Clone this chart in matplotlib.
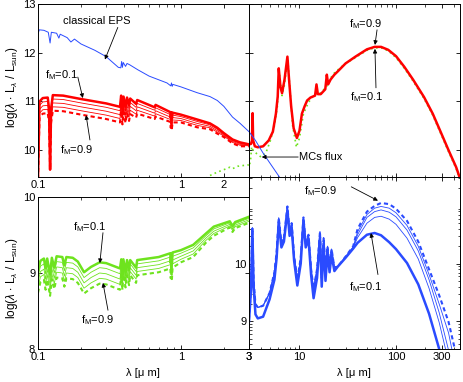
import numpy as np
import matplotlib.pyplot as plt
from matplotlib.ticker import NullFormatter, FixedLocator

plt.rcParams['font.family'] = ['Liberation Sans', 'DejaVu Sans']
plt.rcParams['font.size'] = 8
plt.rcParams['mathtext.fontset'] = 'custom'
plt.rcParams['mathtext.rm'] = 'Liberation Sans'
plt.rcParams['mathtext.it'] = 'Liberation Sans:italic'
plt.rcParams['mathtext.sf'] = 'Liberation Sans'

RED = '#ff0000'
BLUE = '#2a4bff'
GREEN = '#6ee31e'

# --- top panels: classical EPS, MCs flux, red family (fM = 0.1 ... 0.9) ---
eps_lam = [0.100, 0.102, 0.110, 0.118, 0.1215, 0.124, 0.135, 0.140, 0.143, 0.160, 0.170,
           0.180, 0.200, 0.250, 0.300, 0.365, 0.380, 0.385, 0.390, 0.395, 0.410, 0.420,
           0.440, 0.500, 0.600, 0.800, 0.850, 0.860, 0.870, 0.880, 1.00, 1.30, 1.60,
           1.80, 2.00, 2.30, 2.60, 3.00, 3.50, 4.20, 5.00, 6.20, 7.00]
eps_val = [12.38, 12.47, 12.46, 12.42, 12.20, 12.42, 12.40, 12.30, 12.38, 12.31, 12.22,
           12.28, 12.18, 12.05, 11.92, 11.70, 11.69, 11.82, 11.70, 11.80, 11.72, 11.78,
           11.75, 11.65, 11.52, 11.38, 11.32, 11.38, 11.31, 11.35, 11.30, 11.18, 11.10,
           11.02, 10.90, 10.68, 10.55, 10.38, 10.20, 9.94, 9.72, 9.45, 9.30]

mcs_lam = [1.5, 1.6, 1.8, 2.0, 2.2, 2.3, 2.5, 2.8, 3.0, 3.1, 3.2, 3.3, 3.6, 4.0, 4.5, 5.0,
           5.5, 5.9, 6.15, 6.6, 7.0, 7.55, 8.0, 8.5, 9.3, 10.0, 11.0, 12.4, 14.2, 16.0,
           19.0, 22.0, 25.0, 30.0, 38.0, 50.0, 60.0, 70.0, 83.0, 100.0, 122.0, 150.0,
           195.0, 240.0, 285.0, 350.0, 420.0, 460.0]
mcs_val = [9.42, 9.48, 9.55, 9.60, 9.65, 9.62, 9.67, 9.69, 9.70, 9.75, 10.07, 10.00, 9.93,
           9.86, 9.95, 10.20, 10.50, 10.90, 11.62, 11.12, 11.35, 11.88, 11.20, 10.50,
           10.06, 10.25, 10.75, 10.98, 11.15, 11.15, 11.30, 11.55, 11.65, 11.78, 11.90,
           12.05, 12.10, 12.10, 12.04, 11.90, 11.68, 11.42, 11.06, 10.72, 10.38, 9.97,
           9.62, 9.40]

red_tl_lam = [0.100, 0.1025, 0.108, 0.117, 0.1195, 0.1215, 0.1235, 0.127, 0.150, 0.200,
              0.300, 0.375, 0.382, 0.390, 0.397, 0.410, 0.420, 0.434, 0.442, 0.486, 0.495,
              0.656, 0.665, 0.845, 0.850, 0.858, 0.866, 0.875, 1.00, 1.30, 1.60, 1.80,
              2.00, 2.30, 2.60, 3.00]
red_tl_f01 = [9.40, 11.00, 11.07, 11.08, 10.85, 9.60, 10.85, 11.13, 11.12, 11.05, 10.96,
              10.89, 11.12, 10.85, 11.10, 10.88, 11.08, 10.92, 11.06, 10.95, 11.03, 10.88,
              10.93, 10.78, 10.66, 10.78, 10.65, 10.77, 10.73, 10.63, 10.55, 10.46, 10.35,
              10.22, 10.16, 10.12]
red_tl_f03 = [9.40, 10.92, 10.99, 11.00, 10.78, 9.60, 10.78, 11.05, 11.04, 10.97, 10.88,
              10.81, 11.04, 10.77, 11.02, 10.80, 11.00, 10.84, 10.98, 10.88, 10.96, 10.82,
              10.87, 10.73, 10.61, 10.73, 10.60, 10.72, 10.69, 10.59, 10.52, 10.43, 10.33,
              10.20, 10.14, 10.11]
red_tl_f05 = [9.40, 10.84, 10.91, 10.92, 10.71, 9.60, 10.71, 10.97, 10.96, 10.89, 10.80,
              10.73, 10.96, 10.69, 10.94, 10.72, 10.92, 10.76, 10.90, 10.81, 10.89, 10.76,
              10.81, 10.68, 10.56, 10.68, 10.55, 10.67, 10.65, 10.55, 10.49, 10.40, 10.31,
              10.18, 10.12, 10.10]
red_tl_f07 = [9.40, 10.76, 10.83, 10.84, 10.64, 9.60, 10.64, 10.89, 10.88, 10.81, 10.72,
              10.65, 10.88, 10.61, 10.86, 10.64, 10.84, 10.68, 10.82, 10.74, 10.82, 10.70,
              10.75, 10.63, 10.51, 10.63, 10.50, 10.62, 10.61, 10.51, 10.46, 10.37, 10.29,
              10.16, 10.10, 10.09]
red_tl_f09 = [9.40, 10.68, 10.75, 10.76, 10.57, 9.60, 10.57, 10.81, 10.80, 10.73, 10.64,
              10.57, 10.80, 10.53, 10.78, 10.56, 10.76, 10.60, 10.74, 10.67, 10.75, 10.64,
              10.69, 10.58, 10.46, 10.58, 10.45, 10.57, 10.57, 10.47, 10.43, 10.34, 10.27,
              10.14, 10.08, 10.08]

red_tr_lam = [3.0, 3.15, 3.22, 3.27, 3.31, 3.45, 3.7, 4.2, 4.8, 5.3, 5.7, 5.95, 6.1, 6.35,
              6.6, 7.0, 7.5, 7.8, 8.2, 8.7, 9.4, 10.0, 10.6, 11.3, 12.0, 13.0, 14.5, 15.0,
              15.5, 16.6, 18.5, 19.2, 19.8, 21.0, 23.0, 25.0, 30.0, 38.0, 50.0, 60.0, 70.0,
              83.0, 100.0, 122.0, 150.0, 195.0, 240.0, 285.0, 350.0, 420.0, 460.0]
red_tr_val = [10.12, 10.13, 10.20, 10.76, 10.20, 10.08, 10.06, 10.08, 10.20, 10.38, 10.75,
              11.10, 11.68, 11.30, 11.17, 11.45, 11.92, 11.45, 10.90, 10.45, 10.25, 10.40,
              10.75, 10.90, 11.02, 11.08, 11.12, 11.35, 11.15, 11.15, 11.25, 11.55, 11.35,
              11.45, 11.55, 11.62, 11.78, 11.92, 12.07, 12.12, 12.12, 12.06, 11.93, 11.71,
              11.45, 11.09, 10.75, 10.41, 10.00, 9.65, 9.42]

# --- bottom-left: green family ---
bl_lam = [0.100, 0.104, 0.110, 0.113, 0.116, 0.1215, 0.125, 0.130, 0.135, 0.148, 0.153,
          0.158, 0.175, 0.190, 0.210, 0.235, 0.270, 0.300, 0.375, 0.383, 0.390, 0.396,
          0.410, 0.420, 0.434, 0.442, 0.486, 0.495, 0.700, 0.845, 0.850, 0.858, 0.866,
          0.875, 1.00, 1.22, 1.50, 1.70, 2.20, 2.30, 2.40, 3.00]
bl_f01 = [9.02, 9.16, 9.19, 9.06, 9.19, 8.98, 9.20, 9.07, 9.22, 9.21, 9.10, 9.21, 9.20,
          9.15, 9.01, 9.08, 9.14, 9.13, 9.06, 9.18, 8.98, 9.18, 9.01, 9.17, 9.04, 9.17,
          9.07, 9.17, 9.21, 9.26, 9.13, 9.26, 9.12, 9.27, 9.30, 9.37, 9.52, 9.61, 9.68,
          9.62, 9.67, 9.74]
bl_f03 = [8.95, 9.09, 9.12, 8.99, 9.12, 8.91, 9.13, 9.00, 9.15, 9.14, 9.03, 9.14, 9.13,
          9.08, 8.94, 9.01, 9.07, 9.06, 8.99, 9.13, 8.93, 9.13, 8.96, 9.12, 8.99, 9.12,
          9.02, 9.12, 9.16, 9.21, 9.08, 9.21, 9.07, 9.22, 9.26, 9.33, 9.49, 9.58, 9.66,
          9.60, 9.65, 9.72]
bl_f05 = [8.88, 9.02, 9.05, 8.92, 9.05, 8.84, 9.06, 8.93, 9.08, 9.07, 8.96, 9.07, 9.06,
          9.01, 8.87, 8.94, 9.00, 8.99, 8.92, 9.08, 8.88, 9.08, 8.91, 9.07, 8.94, 9.07,
          8.97, 9.07, 9.11, 9.16, 9.03, 9.16, 9.02, 9.17, 9.22, 9.29, 9.46, 9.55, 9.64,
          9.58, 9.63, 9.70]
bl_f07 = [8.81, 8.95, 8.98, 8.85, 8.98, 8.77, 8.99, 8.86, 9.01, 9.00, 8.89, 9.00, 8.99,
          8.94, 8.80, 8.87, 8.93, 8.92, 8.85, 9.03, 8.83, 9.03, 8.86, 9.02, 8.89, 9.02,
          8.92, 9.02, 9.06, 9.11, 8.98, 9.11, 8.97, 9.12, 9.18, 9.25, 9.43, 9.52, 9.62,
          9.56, 9.61, 9.68]
bl_f09 = [8.74, 8.88, 8.91, 8.78, 8.91, 8.70, 8.92, 8.79, 8.94, 8.93, 8.82, 8.93, 8.92,
          8.87, 8.73, 8.80, 8.86, 8.85, 8.78, 8.98, 8.78, 8.98, 8.81, 8.97, 8.84, 8.97,
          8.87, 8.97, 9.01, 9.06, 8.93, 9.06, 8.92, 9.07, 9.14, 9.21, 9.40, 9.49, 9.60,
          9.54, 9.59, 9.66]

# --- bottom-right: blue family (MIR part shared by fM >= 0.3, FIR part per curve) ---
br_mir_lam = [3.0, 3.15, 3.25, 3.35, 3.5, 3.7, 4.2, 4.9, 5.5, 5.8, 6.1, 6.5, 6.9, 7.5, 7.9,
              8.3, 8.8, 9.5, 10.3, 11.0, 11.6, 12.4, 13.2, 14.0, 15.2, 16.3, 17.0, 17.8,
              18.6, 19.5, 20.5, 21.5, 23.0]
br_mir_upper = [9.03, 9.60, 10.62, 9.70, 9.30, 9.24, 9.27, 9.49, 9.85, 10.20, 10.79, 10.35,
                10.45, 10.99, 10.55, 10.70, 10.13, 9.72, 10.10, 10.80, 10.35, 10.50, 9.90,
                9.56, 9.90, 10.55, 9.75, 10.45, 9.85, 10.30, 9.98, 10.25, 9.93]
br_mir_lower = [9.00, 9.55, 10.60, 9.60, 9.12, 9.05, 9.08, 9.38, 9.72, 10.10, 10.72, 10.28,
                10.38, 10.92, 10.48, 10.62, 10.05, 9.62, 10.00, 10.75, 10.28, 10.43, 9.80,
                9.40, 9.75, 10.45, 9.60, 10.35, 9.70, 10.20, 9.85, 10.15, 9.87]
br_fir_lam = [25, 30, 36, 40, 50, 60, 70, 85, 100, 130, 170, 220, 280, 350, 450]
br_fir_f01 = [9.95, 10.10, 10.26, 10.36, 10.50, 10.53, 10.49, 10.37, 10.25, 10.01, 9.64,
              9.13, 8.52, 7.80, 6.90]
br_fir_f03 = [9.95, 10.11, 10.28, 10.45, 10.70, 10.80, 10.82, 10.77, 10.68, 10.44, 10.08,
              9.57, 8.98, 8.30, 7.40]
br_fir_f05 = [9.95, 10.11, 10.28, 10.50, 10.80, 10.90, 10.93, 10.89, 10.81, 10.58, 10.22,
              9.72, 9.15, 8.50, 7.60]
br_fir_f07 = [9.95, 10.12, 10.29, 10.55, 10.85, 10.96, 10.99, 10.96, 10.88, 10.66, 10.30,
              9.81, 9.30, 8.80, 7.90]
br_fir_f09 = [9.95, 10.12, 10.30, 10.60, 10.90, 11.00, 11.05, 11.03, 10.95, 10.74, 10.38,
              9.90, 9.45, 8.99, 8.20]

# line styles for fM = 0.1, 0.3, 0.5, 0.7, 0.9
fam_styles = [dict(lw=1.8), dict(lw=0.6), dict(lw=0.6), dict(lw=0.6),
              dict(lw=1.5, ls=(0, (2, 1.5)))]

W, H = 463, 382
fig = plt.figure(figsize=(W / 100, H / 100), dpi=100)


def px_axes(l, t, r, b):
    return fig.add_axes([l / W, 1 - b / H, (r - l) / W, (b - t) / H])


ax_tl = px_axes(38, 4, 249, 177)
ax_tr = px_axes(249, 4, 460, 177)
ax_bl = px_axes(38, 197, 249, 349)
ax_br = px_axes(249, 177, 460, 349)

for ax in (ax_tl, ax_tr, ax_bl, ax_br):
    ax.set_xscale('log')
    ax.tick_params(which='both', direction='in', top=True, right=True, labelsize=8, pad=2)
    ax.tick_params(which='major', length=3, width=0.6)
    ax.tick_params(which='minor', length=1.8, width=0.5)
    ax.xaxis.set_minor_formatter(NullFormatter())
    for s in ax.spines.values():
        s.set_linewidth(0.7)

# top panels
for ax in (ax_tl, ax_tr):
    ax.plot(mcs_lam, mcs_val, color=GREEN, lw=1.2, ls=(0, (1, 2)))
for vals, st in zip([red_tl_f01, red_tl_f03, red_tl_f05, red_tl_f07, red_tl_f09], fam_styles):
    ax_tl.plot(red_tl_lam, vals, color=RED, **st)
ax_tr.plot(red_tr_lam, red_tr_val, color=RED, lw=1.8)
for ax in (ax_tl, ax_tr):
    ax.plot(eps_lam, eps_val, color=BLUE, lw=0.7)
    ax.set_ylim(9.45, 13)
    ax.set_yticks([10, 11, 12, 13])

ax_tl.set_xlim(0.1, 3)
ax_tl.set_xticks([0.1, 1, 2], ['0.1', '1', '2'])
ax_tr.set_xlim(3, 460)
ax_tr.set_xticks([3, 10, 100, 300], ['', '', '', ''])
ax_tr.set_yticklabels(['', '', '', ''])

# bottom-left
for vals, st in zip([bl_f01, bl_f03, bl_f05, bl_f07, bl_f09], fam_styles):
    ax_bl.plot(bl_lam, vals, color=GREEN, **st)
ax_bl.set_xlim(0.1, 3)
ax_bl.set_ylim(8, 10)
ax_bl.set_yticks([8, 9, 10])
ax_bl.set_xticks([0.1, 1, 3], ['0.1', '1', '3'])

# bottom-right
br_mir = [br_mir_lower, br_mir_upper, br_mir_upper, br_mir_upper, br_mir_upper]
br_fir = [br_fir_f01, br_fir_f03, br_fir_f05, br_fir_f07, br_fir_f09]
for mir, fir, st in zip(br_mir, br_fir, fam_styles):
    ax_br.plot(br_mir_lam + br_fir_lam, mir + fir, color=BLUE, **st)
ax_br.set_xlim(3, 460)
ax_br.set_ylim(8.52, 11.5)
ax_br.set_yticks([9, 10])
ax_br.yaxis.set_minor_locator(FixedLocator(
    [n + np.log10(k) for n in (8, 9, 10, 11) for k in range(2, 10)]))
ax_br.yaxis.set_minor_formatter(NullFormatter())
ax_br.set_xticks([3, 10, 100, 300], ['3', '10', '100', '300'])

ARROW = dict(arrowstyle='-|>', lw=0.6, color='k', mutation_scale=6, shrinkA=0, shrinkB=0)


def note(ax, label, pos, tail, tip):
    ax.text(pos[0], pos[1], label, ha='left', va='center', fontsize=8)
    ax.annotate('', xy=tip, xytext=tail, arrowprops=ARROW)


note(ax_tl, 'classical EPS', (0.149, 12.66), (0.362, 12.52), (0.294, 11.86))
note(ax_tl, r'f$_{\rm M}$=0.1', (0.112, 11.55), (0.190, 11.50), (0.206, 11.07))
note(ax_tl, r'f$_{\rm M}$=0.9', (0.143, 10.00), (0.231, 10.21), (0.217, 10.72))
note(ax_tr, r'f$_{\rm M}$=0.9', (32.2, 12.58), (63.6, 12.47), (60.5, 12.16))
note(ax_tr, r'f$_{\rm M}$=0.1', (33.0, 11.09), (62.0, 11.28), (60.5, 12.08))
note(ax_tr, 'MCs flux', (9.9, 9.86), (9.7, 9.86), (4.07, 9.86))
note(ax_bl, r'f$_{\rm M}$=0.1', (0.176, 9.61), (0.285, 9.53), (0.271, 9.13))
note(ax_bl, r'f$_{\rm M}$=0.9', (0.200, 8.38), (0.309, 8.51), (0.285, 8.87))
note(ax_br, r'f$_{\rm M}$=0.9', (11.2, 11.26), (34.4, 11.33), (65.0, 11.09))
note(ax_br, r'f$_{\rm M}$=0.1', (32.2, 9.59), (65.0, 9.81), (55.0, 10.53))

ylab = r'log($\lambda$ $\cdot$ L$_{\lambda}$ / L$_{\rm sun}$)'
fig.text(12 / W, 1 - 87 / H, ylab, rotation=90, ha='center', va='center', fontsize=8.5)
fig.text(12 / W, 1 - 278 / H, ylab, rotation=90, ha='center', va='center', fontsize=8.5)
fig.text(143 / W, 1 - 373 / H, 'λ [μ m]', ha='center', va='center', fontsize=8)
fig.text(354 / W, 1 - 373 / H, 'λ [μ m]', ha='center', va='center', fontsize=8)

fig.savefig('out.png', dpi=100)
